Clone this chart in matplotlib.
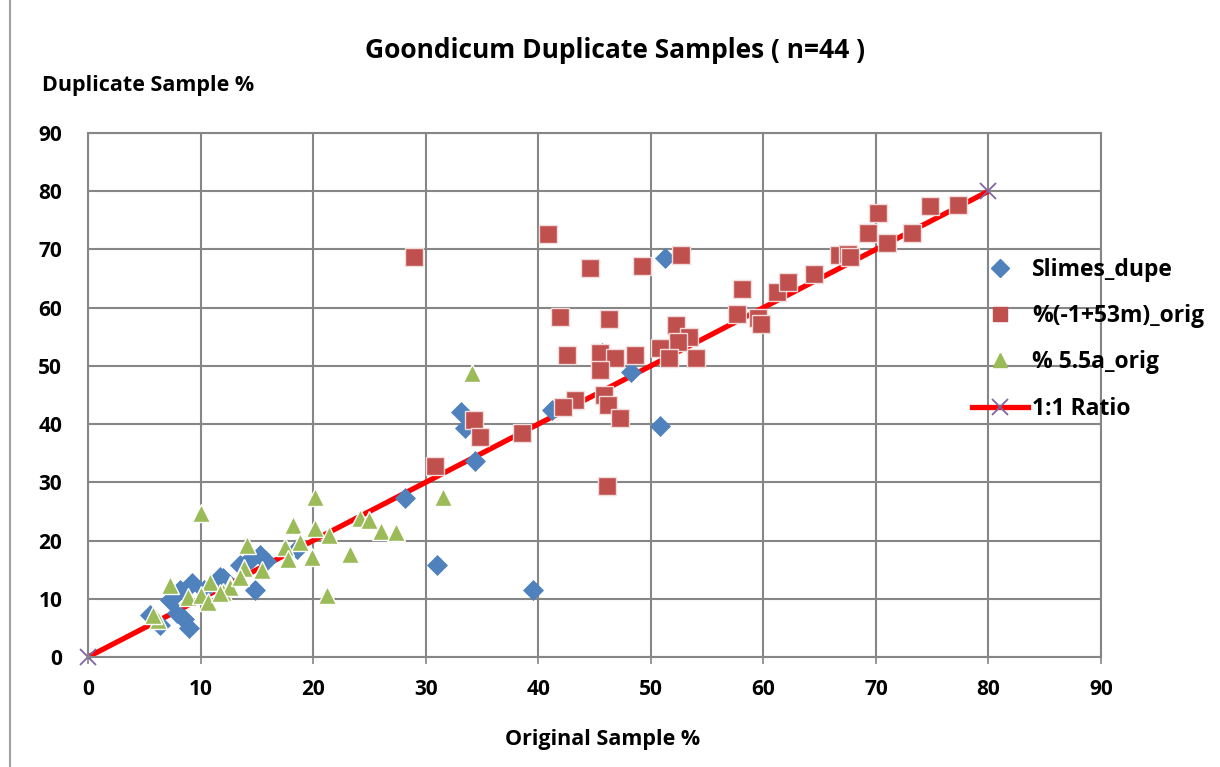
import matplotlib
matplotlib.use("Agg")
import matplotlib.pyplot as plt
from matplotlib.lines import Line2D

plt.rcParams['font.family'] = ['Open Sans', 'DejaVu Sans']

# ---- data ----
slimes_x = [51.3, 50.8, 39.5, 31.0, 28.2, 34.4, 33.1, 33.5, 41.2, 48.2, 45.7,
            5.5, 6.4, 9.0, 7.9, 7.3, 8.2, 9.2, 10.3, 11.7, 12.0, 13.5, 14.8,
            14.0, 14.6, 15.3, 15.8, 18.6, 8.5]
slimes_y = [68.5, 39.7, 11.5, 15.8, 27.3, 33.6, 42.1, 39.3, 42.4, 48.9, 52.2,
            7.2, 5.5, 5.0, 7.5, 9.8, 11.5, 12.7, 11.5, 13.7, 13.5, 15.8, 11.5,
            16.1, 17.0, 17.6, 16.5, 18.5, 6.5]

m53_x = [29.0, 40.9, 44.6, 49.2, 52.7, 41.9, 46.3, 52.2, 53.4, 52.4, 50.8,
         51.6, 54.0, 42.6, 45.5, 46.8, 48.6, 45.5, 45.8, 46.2, 47.3, 43.3,
         42.2, 34.3, 34.8, 38.6, 30.8, 46.1, 58.1, 57.7, 59.5, 59.8, 61.2,
         62.2, 64.5, 66.7, 67.5, 67.7, 69.3, 70.2, 71.0, 73.2, 74.8, 77.3]
m53_y = [68.7, 72.7, 66.8, 67.2, 69.1, 58.4, 58.0, 57.0, 54.9, 54.1, 53.0,
         51.3, 51.3, 51.8, 52.2, 51.3, 51.8, 49.3, 45.0, 43.3, 41.0, 44.1,
         42.9, 40.7, 37.8, 38.5, 32.8, 29.4, 63.2, 58.9, 58.2, 57.2, 62.7,
         64.4, 65.8, 69.0, 69.2, 68.7, 72.9, 76.2, 71.1, 72.8, 77.4, 77.6]

a55_x = [10.0, 20.2, 31.5, 34.1, 24.2, 25.0, 26.0, 27.4, 21.4, 20.2, 18.2,
         18.8, 17.5, 17.8, 19.9, 23.3, 21.2, 14.1, 13.9, 15.5, 12.6, 12.0,
         7.3, 10.8, 12.6, 13.5, 8.9, 10.0, 10.7, 11.7, 6.2, 5.8]
a55_y = [24.7, 27.5, 27.5, 48.8, 23.9, 23.5, 21.6, 21.5, 20.9, 22.1, 22.7,
         19.7, 18.9, 16.8, 17.2, 17.7, 10.6, 19.2, 15.3, 14.9, 12.4, 11.2,
         12.4, 12.9, 12.0, 13.7, 10.3, 10.6, 9.4, 11.0, 6.4, 7.2]

ratio_x = [0, 80]
ratio_y = [0, 80]

x_ticks = [0, 10, 20, 30, 40, 50, 60, 70, 80, 90]
y_ticks = [0, 10, 20, 30, 40, 50, 60, 70, 80, 90]

title = "Goondicum Duplicate Samples ( n=44 )"
series_labels = ["Slimes_dupe", "%(-1+53m)_orig", "% 5.5a_orig", "1:1 Ratio"]

# ---- figure ----
W, H = 1220, 767
fig = plt.figure(figsize=(W / 100, H / 100), dpi=100)
fig.patch.set_facecolor('white')

L, R, T, B = 88, 1101, 133, 657
ax = fig.add_axes([L / W, 1 - B / H, (R - L) / W, (B - T) / H])
ax.set_xlim(0, 90)
ax.set_ylim(0, 90)

grid_c = '#868686'
ax.set_xticks(x_ticks)
ax.set_yticks(y_ticks)
ax.grid(True, color=grid_c, linewidth=1.5, zorder=0)
ax.set_axisbelow(True)
for s in ax.spines.values():
    s.set_color(grid_c)
    s.set_linewidth(1.5)
ax.tick_params(axis='x', length=5, width=1.2, color=grid_c, pad=11,
               labelsize=15)
ax.tick_params(axis='y', length=0, pad=18.5, labelsize=15)
for lbl in ax.get_xticklabels() + ax.get_yticklabels():
    lbl.set_fontweight('bold')

ax.plot(ratio_x, ratio_y, color='#FF0000', linewidth=3.8, marker='x',
        markersize=12, markeredgecolor='#8064A2', markeredgewidth=1.3,
        zorder=2, label=series_labels[3], solid_capstyle='butt')
ax.plot(slimes_x, slimes_y, linestyle='none', marker='D', markersize=10.5,
        markerfacecolor='#4F81BD', markeredgecolor='#4F81BD',
        markeredgewidth=0.5, zorder=3, label=series_labels[0])
ax.plot(m53_x, m53_y, linestyle='none', marker='s', markersize=12.5,
        markerfacecolor='#C0504D', markeredgecolor='#F2DCDB',
        markeredgewidth=1.0, zorder=4, label=series_labels[1])
ax.plot(a55_x, a55_y, linestyle='none', marker='^', markersize=13,
        markerfacecolor='#9BBB59', markeredgecolor='white',
        markeredgewidth=1.0, zorder=5, label=series_labels[2])
for ln in ax.lines:
    ln.set_clip_on(False)

# legend
handles = [
    Line2D([], [], linestyle='none', marker='D', markersize=9,
           markerfacecolor='#4F81BD', markeredgecolor='#4F81BD'),
    Line2D([], [], linestyle='none', marker='s', markersize=10,
           markerfacecolor='#C0504D', markeredgecolor='#C0504D'),
    Line2D([], [], linestyle='none', marker='^', markersize=10,
           markerfacecolor='#9BBB59', markeredgecolor='#9BBB59'),
    Line2D([], [], color='#FF0000', linewidth=3.8, marker='x', markersize=12,
           markeredgecolor='#8064A2', markeredgewidth=1.3),
]
leg = fig.legend(handles, series_labels, loc='upper left',
                 bbox_to_anchor=(972 / W, 1 - 258 / H), frameon=False,
                 prop={'weight': 'bold', 'size': 16.5}, labelspacing=0.97,
                 handlelength=2.45, handletextpad=0.18, borderaxespad=0,
                 borderpad=0)

fig.text(615 / W, 1 - 50 / H, title, ha='center', va='center',
         fontsize=19, fontweight='bold')
fig.text(42 / W, 1 - 85 / H, "Duplicate Sample %", ha='left', va='center',
         fontsize=15.5, fontweight='bold')
fig.text(603 / W, 1 - 740 / H, "Original Sample %", ha='center', va='center',
         fontsize=15.5, fontweight='bold')

# chart-area border (left edge visible)
fig.add_artist(Line2D([10 / W, 10 / W], [0, 1], transform=fig.transFigure,
                      color='#A0A0A0', linewidth=1.5))

fig.savefig('out.png', dpi=100)
